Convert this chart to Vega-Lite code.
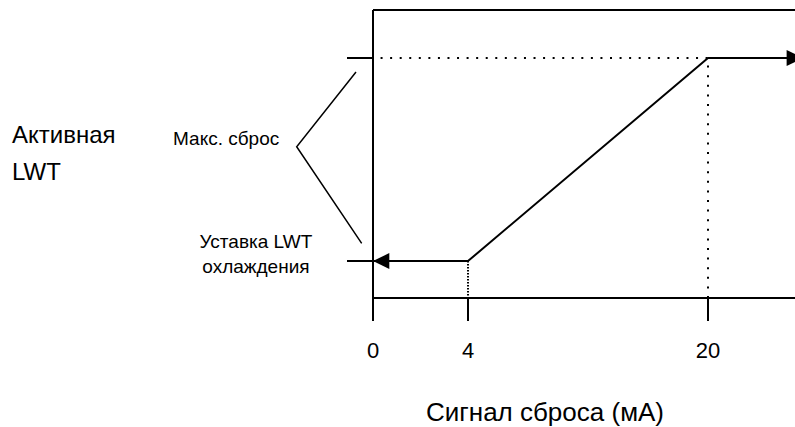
{
  "$schema": "https://vega.github.io/schema/vega-lite/v6.json",
  "autosize": {"type": "none"},
  "padding": {"left": 373, "top": 10, "right": 0, "bottom": 129},
  "width": 422,
  "height": 288,
  "background": "white",
  "config": {
    "view": {"stroke": null},
    "font": "Liberation Sans",
    "text": {"font": "Liberation Sans", "color": "black"}
  },
  "encoding": {
    "x": {
      "field": "x", "type": "quantitative",
      "scale": {"domain": [0, 4, 20, 25.8], "range": [0, 95, 335, 422], "nice": false, "zero": false},
      "axis": {
        "values": [0, 4, 20], "format": "d", "grid": false, "translate": 0,
        "domainColor": "black", "domainWidth": 2,
        "tickColor": "black", "tickWidth": 2, "tickSize": 23,
        "labelFont": "Liberation Sans", "labelFontSize": 22, "labelColor": "black", "labelPadding": 20,
        "labelFlush": false, "labelOverlap": false,
        "title": "Сигнал сброса (мА)", "titleFont": "Liberation Sans", "titleFontSize": 26,
        "titleFontWeight": "normal", "titleColor": "black",
        "titleX": 172, "titleY": 123, "titleBaseline": "alphabetic", "titleAlign": "center"
      }
    },
    "y": {
      "field": "y", "type": "quantitative",
      "scale": {"domain": [0, 7.8], "nice": false, "zero": false},
      "axis": {
        "values": [1, 6.5], "labels": false, "title": null, "grid": false, "translate": 0,
        "domainColor": "black", "domainWidth": 2,
        "tickColor": "black", "tickWidth": 2, "tickSize": 26
      }
    }
  },
  "layer": [
    {
      "data": {"values": [{"x": 0, "x2": 27, "y": 7.8}]},
      "mark": {"type": "rule", "color": "black", "strokeWidth": 2},
      "encoding": {"x2": {"field": "x2"}}
    },
    {
      "data": {"values": [{"x": 0, "y": 6.5, "o": 0}, {"x": 20, "y": 6.5, "o": 1}]},
      "mark": {"type": "line", "color": "black", "strokeWidth": 2, "strokeDash": [2, 7.56], "strokeDashOffset": 2},
      "encoding": {"order": {"field": "o", "type": "quantitative"}}
    },
    {
      "data": {"values": [{"x": 20, "y": 6.5, "o": 0}, {"x": 20, "y": 0, "o": 1}]},
      "mark": {"type": "line", "color": "black", "strokeWidth": 2, "strokeDash": [2, 7.6], "strokeDashOffset": 2},
      "encoding": {"order": {"field": "o", "type": "quantitative"}}
    },
    {
      "data": {"values": [{"x": 4, "y": 1, "o": 0}, {"x": 4, "y": 0, "o": 1}]},
      "mark": {"type": "line", "color": "black", "strokeWidth": 2, "strokeDash": [1.5, 1.5]},
      "encoding": {"order": {"field": "o", "type": "quantitative"}}
    },
    {
      "data": {"values": [{"x": 0, "y": 1, "o": 0}, {"x": 4, "y": 1, "o": 1}, {"x": 20, "y": 6.5, "o": 2}, {"x": 26.33, "y": 6.5, "o": 3}]},
      "mark": {"type": "line", "color": "black", "strokeWidth": 2},
      "encoding": {"order": {"field": "o", "type": "quantitative"}}
    },
    {
      "data": {"values": [{"x": 0, "y": 1}]},
      "mark": {"type": "point", "shape": "M0,0L2.04,-1L2.04,1Z", "size": 256, "filled": true, "color": "black", "opacity": 1, "strokeWidth": 0}
    },
    {
      "data": {"values": [{"x": 26.33, "y": 6.5}]},
      "mark": {"type": "point", "shape": "M0,0L-2.04,-1L-2.04,1Z", "size": 256, "filled": true, "color": "black", "opacity": 1, "strokeWidth": 0}
    },
    {
      "data": {"values": [{"x": -0.716, "y": 6.121, "o": 0}, {"x": -3.213, "y": 4.098, "o": 1}, {"x": -0.476, "y": 1.481, "o": 2}]},
      "mark": {"type": "line", "color": "black", "strokeWidth": 1.5},
      "encoding": {"order": {"field": "o", "type": "quantitative"}}
    },
    {
      "data": {"values": [{"x": -15.2, "y": 4.198, "label": "Активная\nLWT"}]},
      "mark": {"type": "text", "align": "left", "baseline": "alphabetic", "fontSize": 24, "lineBreak": "\n", "lineHeight": 37, "color": "black"},
      "encoding": {"text": {"field": "label", "type": "nominal"}}
    },
    {
      "data": {"values": [{"x": -8.42, "y": 4.144, "label": "Макс. сброс"}]},
      "mark": {"type": "text", "align": "left", "baseline": "alphabetic", "fontSize": 19, "color": "black"},
      "encoding": {"text": {"field": "label", "type": "nominal"}}
    },
    {
      "data": {"values": [{"x": -4.93, "y": 1.354, "label": "Уставка LWT\nохлаждения"}]},
      "mark": {"type": "text", "align": "center", "baseline": "alphabetic", "fontSize": 19, "lineBreak": "\n", "lineHeight": 25, "color": "black"},
      "encoding": {"text": {"field": "label", "type": "nominal"}}
    }
  ]
}
